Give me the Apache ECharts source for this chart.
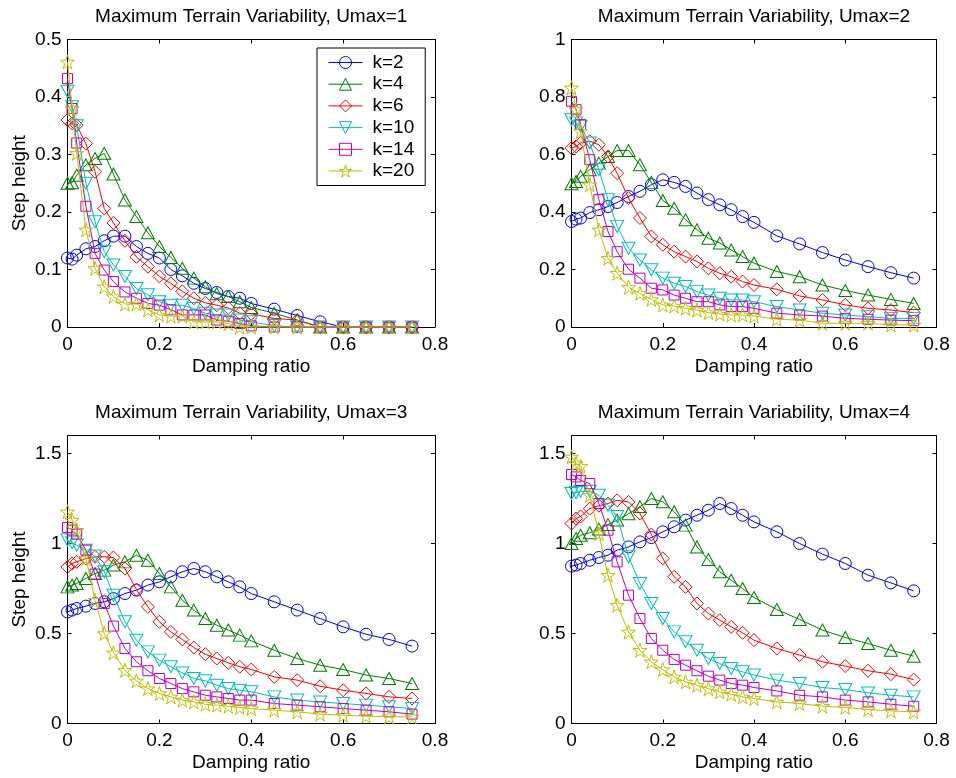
<!DOCTYPE html>
<html>
<head>
<meta charset="utf-8">
<title>Maximum Terrain Variability</title>
<script src="https://cdn.jsdelivr.net/npm/echarts@6/dist/echarts.min.js"></script>
<style>
  html, body { margin: 0; padding: 0; background: #ffffff; }
  #chart { width: 956px; height: 778px; }
</style>
</head>
<body>
<div id="chart"></div>
<script>
// Damping ratio samples shared by every curve
const dampingRatio = [0, 0.01, 0.02, 0.04, 0.06, 0.08, 0.1, 0.125, 0.15, 0.175, 0.2, 0.225, 0.25,
  0.275, 0.3, 0.325, 0.35, 0.375, 0.4, 0.45, 0.5, 0.55, 0.6, 0.65, 0.7, 0.75];

const seriesNames = ['k=2', 'k=4', 'k=6', 'k=10', 'k=14', 'k=20'];

const panelTitles = [
  'Maximum Terrain Variability, Umax=1',
  'Maximum Terrain Variability, Umax=2',
  'Maximum Terrain Variability, Umax=3',
  'Maximum Terrain Variability, Umax=4'
];

// y axis range and tick step per panel
const yMax = [0.5, 1, 1.6, 1.6];
const yStep = [0.1, 0.2, 0.5, 0.5];
const xMax = 0.8;
const xStep = 0.2;

// Umax = 1
const umax1_k2  = [0.12, 0.118, 0.125, 0.136, 0.14, 0.15, 0.158, 0.158, 0.14, 0.128, 0.12, 0.1, 0.089, 0.076, 0.067, 0.06, 0.053, 0.05, 0.041, 0.031, 0.02, 0.009, 0, 0, 0, 0];
const umax1_k4  = [0.25, 0.251, 0.264, 0.282, 0.293, 0.302, 0.266, 0.221, 0.192, 0.164, 0.14, 0.121, 0.102, 0.085, 0.07, 0.058, 0.053, 0.044, 0.034, 0.024, 0.012, 0, 0, 0, 0, 0];
const umax1_k6  = [0.36, 0.354, 0.351, 0.319, 0.27, 0.206, 0.181, 0.15, 0.122, 0.105, 0.088, 0.076, 0.062, 0.05, 0.042, 0.038, 0.033, 0.024, 0.023, 0.015, 0.012, 0, 0, 0, 0, 0];
const umax1_k10 = [0.41, 0.383, 0.35, 0.25, 0.183, 0.131, 0.108, 0.088, 0.067, 0.056, 0.044, 0.038, 0.038, 0.032, 0.024, 0.021, 0.021, 0.012, 0.009, 0.002, 0, 0, 0, 0, 0, 0];
const umax1_k14 = [0.432, 0.38, 0.32, 0.21, 0.128, 0.099, 0.079, 0.061, 0.05, 0.041, 0.038, 0.03, 0.021, 0.021, 0.021, 0.012, 0.01, 0.006, 0.002, 0, 0, 0, 0, 0, 0, 0];
const umax1_k20 = [0.461, 0.38, 0.302, 0.169, 0.102, 0.07, 0.053, 0.04, 0.04, 0.03, 0.021, 0.019, 0.019, 0.009, 0.009, 0.009, 0.006, 0, 0, 0, 0, 0, 0, 0, 0, 0];

// Umax = 2
const umax2_k2  = [0.367, 0.375, 0.379, 0.398, 0.408, 0.419, 0.433, 0.454, 0.472, 0.495, 0.512, 0.503, 0.489, 0.466, 0.443, 0.425, 0.408, 0.384, 0.364, 0.317, 0.289, 0.259, 0.233, 0.21, 0.189, 0.17];
const umax2_k4  = [0.498, 0.506, 0.524, 0.547, 0.57, 0.593, 0.614, 0.614, 0.564, 0.503, 0.44, 0.413, 0.373, 0.338, 0.309, 0.292, 0.268, 0.245, 0.222, 0.193, 0.175, 0.146, 0.127, 0.111, 0.096, 0.082];
const umax2_k6  = [0.622, 0.628, 0.64, 0.646, 0.634, 0.593, 0.535, 0.448, 0.379, 0.315, 0.286, 0.262, 0.245, 0.228, 0.204, 0.187, 0.175, 0.158, 0.146, 0.131, 0.108, 0.094, 0.077, 0.065, 0.059, 0.05];
const umax2_k10 = [0.721, 0.71, 0.698, 0.64, 0.547, 0.443, 0.35, 0.274, 0.233, 0.199, 0.17, 0.152, 0.141, 0.123, 0.111, 0.1, 0.094, 0.094, 0.088, 0.071, 0.059, 0.048, 0.042, 0.036, 0.03, 0.03];
const umax2_k14 = [0.785, 0.756, 0.704, 0.582, 0.443, 0.332, 0.262, 0.201, 0.17, 0.135, 0.129, 0.111, 0.1, 0.088, 0.088, 0.077, 0.071, 0.071, 0.065, 0.048, 0.042, 0.038, 0.03, 0.027, 0.024, 0.022];
const umax2_k20 = [0.832, 0.756, 0.681, 0.495, 0.338, 0.239, 0.187, 0.138, 0.117, 0.096, 0.077, 0.073, 0.065, 0.059, 0.05, 0.045, 0.042, 0.042, 0.038, 0.027, 0.024, 0.013, 0.013, 0.013, 0.007, 0.007];

// Umax = 3
const umax3_k2  = [0.62, 0.63, 0.639, 0.652, 0.667, 0.676, 0.694, 0.722, 0.741, 0.769, 0.787, 0.815, 0.843, 0.861, 0.843, 0.815, 0.787, 0.759, 0.722, 0.676, 0.63, 0.583, 0.537, 0.496, 0.467, 0.43];
const umax3_k4  = [0.759, 0.769, 0.778, 0.806, 0.833, 0.852, 0.88, 0.898, 0.935, 0.907, 0.833, 0.759, 0.685, 0.63, 0.583, 0.546, 0.519, 0.491, 0.459, 0.407, 0.361, 0.324, 0.3, 0.269, 0.25, 0.222];
const umax3_k6  = [0.87, 0.889, 0.898, 0.917, 0.926, 0.926, 0.922, 0.861, 0.744, 0.648, 0.565, 0.509, 0.467, 0.422, 0.385, 0.361, 0.337, 0.315, 0.3, 0.259, 0.241, 0.207, 0.185, 0.167, 0.148, 0.139];
const umax3_k10 = [1.019, 1.004, 0.991, 0.963, 0.93, 0.843, 0.713, 0.565, 0.463, 0.398, 0.352, 0.315, 0.281, 0.25, 0.237, 0.213, 0.194, 0.185, 0.176, 0.148, 0.13, 0.12, 0.111, 0.102, 0.093, 0.083];
const umax3_k14 = [1.089, 1.074, 1.052, 0.963, 0.83, 0.667, 0.541, 0.417, 0.343, 0.293, 0.25, 0.222, 0.194, 0.176, 0.157, 0.148, 0.139, 0.13, 0.13, 0.111, 0.102, 0.093, 0.083, 0.074, 0.065, 0.052];
const umax3_k20 = [1.176, 1.13, 1.074, 0.917, 0.685, 0.5, 0.393, 0.296, 0.237, 0.194, 0.167, 0.148, 0.13, 0.12, 0.107, 0.102, 0.096, 0.089, 0.083, 0.074, 0.065, 0.052, 0.046, 0.041, 0.037, 0.037];

// Umax = 4
const umax4_k2  = [0.874, 0.88, 0.889, 0.907, 0.922, 0.935, 0.963, 0.981, 1.009, 1.033, 1.065, 1.093, 1.13, 1.157, 1.185, 1.222, 1.194, 1.157, 1.12, 1.065, 1.0, 0.941, 0.889, 0.824, 0.781, 0.737];
const umax4_k4  = [1.0, 1.028, 1.046, 1.06, 1.08, 1.105, 1.13, 1.165, 1.205, 1.25, 1.232, 1.176, 1.102, 0.981, 0.911, 0.843, 0.796, 0.75, 0.7, 0.633, 0.578, 0.519, 0.478, 0.444, 0.407, 0.374];
const umax4_k6  = [1.111, 1.139, 1.15, 1.194, 1.21, 1.222, 1.24, 1.231, 1.167, 1.05, 0.917, 0.815, 0.759, 0.667, 0.611, 0.574, 0.537, 0.504, 0.463, 0.417, 0.38, 0.343, 0.319, 0.293, 0.274, 0.244];
const umax4_k10 = [1.278, 1.283, 1.29, 1.29, 1.268, 1.213, 1.15, 0.926, 0.778, 0.667, 0.583, 0.509, 0.454, 0.407, 0.361, 0.333, 0.306, 0.287, 0.27, 0.241, 0.222, 0.2, 0.189, 0.17, 0.157, 0.148];
const umax4_k14 = [1.383, 1.37, 1.35, 1.333, 1.222, 1.074, 0.898, 0.713, 0.583, 0.472, 0.407, 0.356, 0.324, 0.293, 0.263, 0.241, 0.222, 0.213, 0.2, 0.181, 0.157, 0.148, 0.13, 0.12, 0.107, 0.096];
const umax4_k20 = [1.481, 1.444, 1.43, 1.268, 1.055, 0.824, 0.657, 0.509, 0.407, 0.343, 0.3, 0.259, 0.231, 0.213, 0.194, 0.176, 0.163, 0.148, 0.139, 0.12, 0.111, 0.096, 0.089, 0.078, 0.07, 0.065];

const panelData = [
  [umax1_k2, umax1_k4, umax1_k6, umax1_k10, umax1_k14, umax1_k20],
  [umax2_k2, umax2_k4, umax2_k6, umax2_k10, umax2_k14, umax2_k20],
  [umax3_k2, umax3_k4, umax3_k6, umax3_k10, umax3_k14, umax3_k20],
  [umax4_k2, umax4_k4, umax4_k6, umax4_k10, umax4_k14, umax4_k20]
];

// Line colours and markers (o, ^, d, v, s, pentagram)
const lineColors = ['#0000ff', '#008000', '#ff0000', '#00bfbf', '#bf00bf', '#bfbf00'];

function starPath() {
  const pts = [];
  for (let i = 0; i < 10; i++) {
    const r = i % 2 === 0 ? 10 : 3.9;
    const a = -Math.PI / 2 + i * Math.PI / 5;
    pts.push((r * Math.cos(a)).toFixed(3) + ' ' + (r * Math.sin(a)).toFixed(3));
  }
  return 'path://M' + pts.join(' L') + ' Z';
}

const markerSymbols = ['circle', 'triangle', 'diamond', 'path://M0 0 L10 0 L5 8.7 Z', 'rect', starPath()];
const markerSizes = [12, [13, 12], 13, [13, 12], 10, 14];

const FONT = '"Liberation Sans", Arial, Helvetica, sans-serif';
const FS = 19;

// Plot boxes (px)
const boxes = [
  { left: 67.5, top: 39.5, width: 367.5, height: 287.5 },
  { left: 571.5, top: 39.5, width: 365, height: 287.5 },
  { left: 67.5, top: 435.5, width: 367.5, height: 288 },
  { left: 571.5, top: 435.5, width: 365, height: 288 }
];

const axisLine = { show: true, onZero: false, lineStyle: { color: '#000', width: 1 } };
const axisTick = { show: true, inside: true, length: 4, lineStyle: { color: '#000', width: 1 } };

const grid = [], xAxis = [], yAxis = [], title = [], series = [];

boxes.forEach((b, p) => {
  grid.push({ left: b.left, top: b.top, width: b.width, height: b.height, containLabel: false });

  title.push({
    text: panelTitles[p],
    left: b.left + b.width / 2,
    top: b.top - 32,
    textAlign: 'center',
    padding: 0,
    textStyle: { fontFamily: FONT, fontSize: FS, fontWeight: 'normal', color: '#000' }
  });

  xAxis.push({
    type: 'value', gridIndex: p, min: 0, max: xMax, interval: xStep,
    position: 'bottom',
    axisLine, axisTick, splitLine: { show: false },
    name: 'Damping ratio', nameLocation: 'middle', nameGap: 30,
    nameTextStyle: { fontFamily: FONT, fontSize: FS, color: '#000' },
    axisLabel: { show: true, margin: 8, fontFamily: FONT, fontSize: FS, color: '#000' }
  });

  // the top of the 1.6 range is not a labelled tick
  const maxIsTick = Math.abs(Math.round(yMax[p] / yStep[p]) * yStep[p] - yMax[p]) < 1e-9;
  const yMain = {
    type: 'value', gridIndex: p, min: 0, max: yMax[p], interval: yStep[p],
    position: 'left',
    axisLine, axisTick, splitLine: { show: false },
    axisLabel: { show: true, margin: 6, fontFamily: FONT, fontSize: FS, color: '#000', showMaxLabel: maxIsTick }
  };
  if (p % 2 === 0) {
    Object.assign(yMain, {
      name: 'Step height', nameLocation: 'middle', nameGap: 38,
      nameTextStyle: { fontFamily: FONT, fontSize: FS, color: '#000' }
    });
  }
  yAxis.push(yMain);

  panelData[p].forEach((vals, s) => {
    series.push({
      type: 'line',
      name: seriesNames[s],
      xAxisIndex: p,
      yAxisIndex: p,
      data: dampingRatio.map((x, i) => [x, vals[i]]),
      symbol: markerSymbols[s],
      symbolSize: markerSizes[s],
      showSymbol: true,
      showAllSymbol: true,
      clip: false,
      color: lineColors[s],
      lineStyle: { color: lineColors[s], width: 1 },
      itemStyle: { color: 'rgba(0,0,0,0)', borderColor: lineColors[s], borderWidth: 1 },
      emphasis: { disabled: true },
      silent: true,
      z: 2 + s * 0.01
    });
  });
});

// Mirrored axes close each box, with ticks on the top and right edges
boxes.forEach((b, p) => {
  xAxis.push({
    type: 'value', gridIndex: p, min: 0, max: xMax, interval: xStep, position: 'top',
    axisLine, axisTick, axisLabel: { show: false }, splitLine: { show: false }
  });
  yAxis.push({
    type: 'value', gridIndex: p, min: 0, max: yMax[p], interval: yStep[p], position: 'right',
    axisLine, axisTick, axisLabel: { show: false }, splitLine: { show: false }
  });
});

const legend = {
  orient: 'vertical',
  left: 317,
  top: 48,
  itemWidth: 34,
  itemHeight: 15,
  itemGap: 2.7,
  padding: [5, 11, 5, 11],
  borderColor: '#000',
  borderWidth: 1,
  backgroundColor: '#fff',
  selectedMode: false,
  textStyle: { fontFamily: FONT, fontSize: FS, color: '#000', padding: [0, 0, 0, 5] },
  data: seriesNames.map((n, s) => ({
    name: n,
    itemStyle: { color: 'rgba(0,0,0,0)', borderColor: lineColors[s], borderWidth: 1 },
    lineStyle: { color: lineColors[s], width: 1 }
  }))
};

const chart = echarts.init(document.getElementById('chart'), null, { renderer: 'canvas' });
chart.setOption({
  animation: false,
  backgroundColor: '#fff',
  title, grid, xAxis, yAxis, legend, series
});
</script>
</body>
</html>
